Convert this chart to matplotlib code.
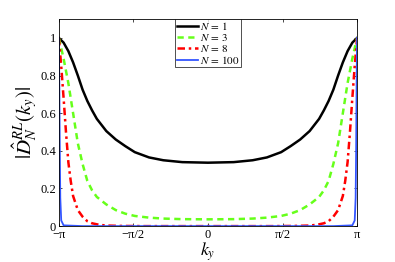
import matplotlib
matplotlib.use("Agg")
import matplotlib.pyplot as plt
import numpy as np

# offsets from -pi (radians) and values, per curve
# (curves are symmetric about k_y = 0)
dk_n1 = [0.0, 0.1, 0.2, 0.3, 0.4, 0.5, 0.6, 0.7, 0.8, 1.0, 1.2, 1.4, 1.6,
         1.9, 2.2, 2.6, np.pi]
val_n1 = [1.0, 0.975, 0.93, 0.87, 0.80, 0.725, 0.665, 0.615, 0.57, 0.505,
          0.46, 0.425, 0.393, 0.365, 0.35, 0.34, 0.337]

dk_n3 = [0.0, 0.1, 0.2, 0.3, 0.4, 0.5, 0.6, 0.7, 0.8, 1.0, 1.2, 1.4, 1.6,
         1.9, 2.2, 2.6, np.pi]
val_n3 = [1.0, 0.89, 0.76, 0.60, 0.44, 0.33, 0.24, 0.19, 0.155, 0.115,
          0.085, 0.066, 0.054, 0.045, 0.04, 0.037, 0.036]

dk_n8 = [0.0, 0.05, 0.1, 0.15, 0.2, 0.25, 0.3, 0.4, 0.5, 0.6, 0.7, 0.85,
         1.0, 1.3, 1.8, 2.4, np.pi]
val_n8 = [1.0, 0.85, 0.68, 0.50, 0.34, 0.24, 0.16, 0.085, 0.05, 0.026,
          0.015, 0.007, 0.003, 0.001, 0.0, 0.0, 0.0]

dk_n100 = [0.0, 0.01, 0.02, 0.03, 0.05, 0.1, 0.5, 1.5, np.pi]
val_n100 = [1.0, 0.75, 0.40, 0.15, 0.03, 0.004, 0.0, 0.0, 0.0]

labels = [r"$N\,=\,1$", r"$N\,=\,3$", r"$N\,=\,8$", r"$N\,=\,100$"]
xticks = [-np.pi, -np.pi / 2, 0, np.pi / 2, np.pi]
xticklabels = ["\u2212\u03c0", "\u2212\u03c0/2", "0", "\u03c0/2", "\u03c0"]
yticks = [0, 0.2, 0.4, 0.6, 0.8, 1.0]
yticklabels = ["0", "0.2", "0.4", "0.6", "0.8", "1"]


def full_curve(dk, val):
    """Mirror the half curve read from -pi up to 0 onto 0..pi."""
    dk = np.asarray(dk)
    val = np.asarray(val)
    k = np.concatenate([-np.pi + dk, (np.pi - dk)[::-1][1:]])
    v = np.concatenate([val, val[::-1][1:]])
    return k, v


plt.rcParams["font.family"] = ["Liberation Serif", "DejaVu Serif"]
plt.rcParams["mathtext.fontset"] = "stix"

fig = plt.figure(figsize=(3.95, 2.62), dpi=100)
ax = fig.add_axes([0.149, 0.137, 0.755, 0.790])

styles = [
    dict(color="black", ls="-", lw=1.8),
    dict(color="#66ff1a", ls=(0, (2.5, 1.8)), lw=1.8),
    dict(color="#ff0000", ls=(0, (3, 1.5, 1, 1.5)), lw=1.8),
    dict(color="#3355ff", ls="-", lw=1.3),
]
curves = [(dk_n1, val_n1), (dk_n3, val_n3), (dk_n8, val_n8),
          (dk_n100, val_n100)]
for (dk, val), lab, st in zip(curves, labels, styles):
    k, v = full_curve(dk, val)
    ax.plot(k, v, label=lab, **st)

ax.set_xlim(-np.pi, np.pi)
ax.set_ylim(0, 1.1)
ax.set_xticks(xticks)
ax.set_xticklabels(xticklabels)
ax.set_yticks(yticks)
ax.set_yticklabels(yticklabels)
ax.tick_params(direction="in", length=2.5, width=0.5, labelsize=9,
               top=True, right=True, pad=2)
for sp in ax.spines.values():
    sp.set_linewidth(0.6)

ax.set_xlabel(r"$k_y$", fontsize=13, labelpad=-0.5)
ax.set_ylabel(r"$|\hat{D}_N^{RL}(k_y)|$", fontsize=15, labelpad=0)

leg = ax.legend(loc="upper center", bbox_to_anchor=(0.5, 1.0), fontsize=8,
                frameon=True, fancybox=False, edgecolor="black",
                handlelength=1.9, handletextpad=0.2, labelspacing=0.0,
                borderpad=0.1, borderaxespad=0.0)
leg.get_frame().set_linewidth(0.6)

fig.savefig("out.png", dpi=100)
